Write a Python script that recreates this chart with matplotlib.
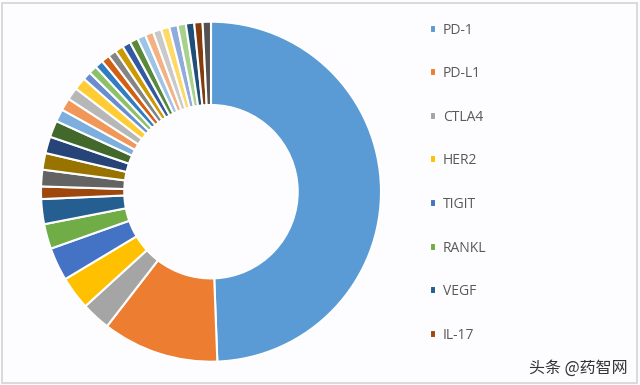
import matplotlib.pyplot as plt
from matplotlib.patches import Rectangle

# targets shown in the legend (first eight slices), the rest are small ones
labels = ['PD-1', 'PD-L1', 'CTLA4', 'HER2', 'TIGIT', 'RANKL', 'VEGF', 'IL-17']
values = [125, 28, 7, 8, 8, 6, 6, 3]
other_values = [4, 4, 4, 4, 3, 3, 3, 3] + [2] * 17
other_labels = ['target %d' % (i + 9) for i in range(len(other_values))]

colors = ['#5B9BD5', '#ED7D31', '#A5A5A5', '#FFC000', '#4472C4', '#70AD47',
          '#255E91', '#9E480E', '#636363', '#997300', '#264478', '#43682B',
          '#7CAFDD', '#F1975A', '#B7B7B7', '#FFCD33', '#698ED0', '#8CC168',
          '#327DC2', '#D26012', '#848484', '#CC9A00', '#335AA1', '#5A8A39',
          '#9DC3E6', '#F4B183', '#C9C9C9', '#FFD966', '#8FAADC', '#A9D18E',
          '#1F4E79', '#843C0C', '#525252']

all_values = values + other_values
all_labels = labels + other_labels

fig = plt.figure(figsize=(6.4, 3.85), dpi=100, facecolor='#fdfcfe')
ax = fig.add_axes([211 / 640 - 170 / 640, 1 - (191.7 + 170) / 385,
                   340 / 640, 340 / 385])
wedges, _ = ax.pie(all_values, colors=colors[:len(all_values)],
                   startangle=90, counterclock=False, radius=1.0,
                   wedgeprops=dict(width=0.49, edgecolor='white',
                                   linewidth=1.5))
ax.set_xlim(-1, 1)
ax.set_ylim(-1, 1)
ax.set_aspect('equal')
ax.axis('off')

leg = fig.legend(wedges[:8], labels, loc='upper left',
                 bbox_to_anchor=(417 / 640, 1 - 10 / 385),
                 frameon=False, labelspacing=2.06, handlelength=0.5,
                 handleheight=0.5, handletextpad=0.45,
                 prop={'family': 'Open Sans', 'size': 10})
for t in leg.get_texts():
    t.set_color('#595959')

fig.text(628 / 640, 1 - 368 / 385, '头条 @药智网', ha='right', va='center',
         fontsize=11.5, color='#333333',
         family=['Noto Sans CJK SC', 'DejaVu Sans'])

fig.add_artist(Rectangle((1.5 / 640, 2 / 385), 635 / 640, 380 / 385,
                         transform=fig.transFigure, fill=False,
                         edgecolor='#d4d4d4', linewidth=1.2))

fig.savefig('out.png', dpi=100, facecolor=fig.get_facecolor())
